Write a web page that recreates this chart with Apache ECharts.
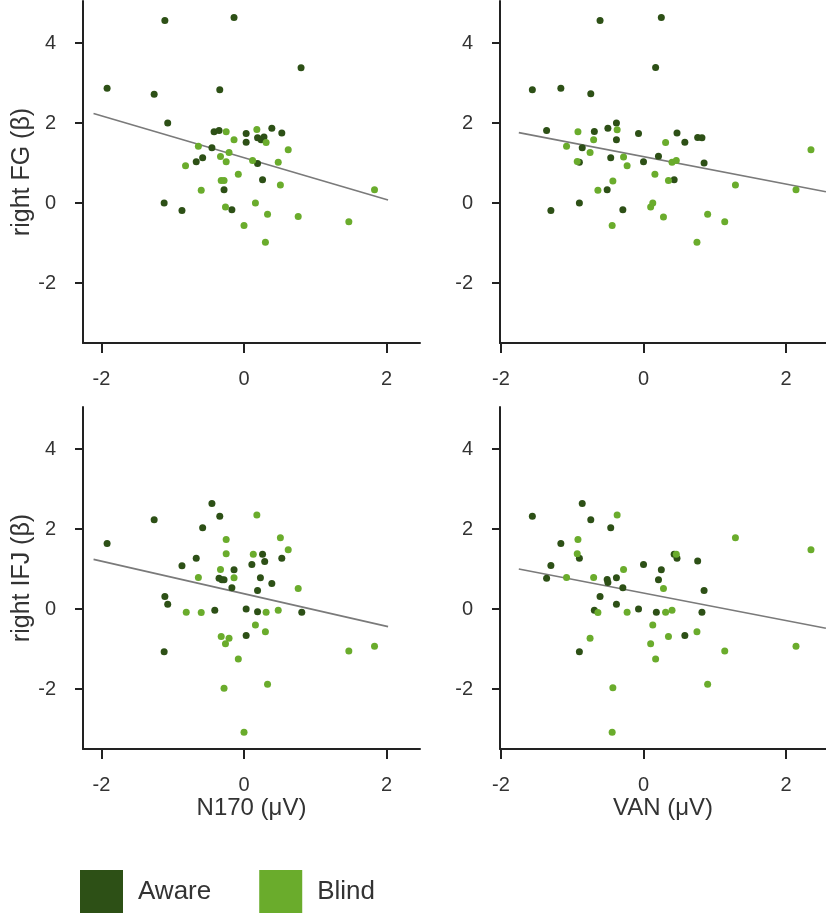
<!DOCTYPE html>
<html><head><meta charset="utf-8">
<script src="https://cdn.jsdelivr.net/npm/echarts@6/dist/echarts.min.js"></script>
<style>html,body{margin:0;padding:0;background:#fff}#c{width:826px;height:918px}</style>
</head><body><div id="c"></div>
<script>
// ---------- data ----------
const xTicks = [-2, 0, 2];
const yTicks = [-2, 0, 2, 4];
const groups = ['Aware', 'Blind'];
const xTitles = ['N170 (μV)', 'VAN (μV)'];
const yTitles = ['right FG (β)', 'right IFJ (β)'];

// right FG vs N170
const fgN170Aware = [[-1.11,4.56],[-0.14,4.64],[-1.92,2.87],[-1.26,2.72],[-0.34,2.83],[-1.07,2.0],[-0.42,1.78],[-0.35,1.81],[0.03,1.74],[0.03,1.52],[-0.45,1.38],[-0.58,1.13],[-0.67,1.03],[0.19,0.99],[-0.28,0.33],[0.80,3.38],[0.39,1.87],[0.53,1.75],[0.19,1.63],[0.24,1.58],[0.28,1.65],[0.26,0.58],[-1.12,0.0],[-0.87,-0.19],[-0.17,-0.17]];
const fgN170Blind = [[-0.25,1.78],[-0.14,1.58],[-0.64,1.42],[-0.21,1.26],[-0.33,1.16],[-0.25,1.03],[-0.82,0.93],[-0.08,0.72],[-0.32,0.56],[-0.28,0.56],[-0.6,0.32],[0.18,1.84],[0.31,1.51],[0.62,1.33],[0.12,1.06],[0.48,1.02],[0.51,0.45],[1.83,0.33],[-0.26,-0.1],[0.16,0.0],[0.33,-0.28],[0.0,-0.56],[0.76,-0.34],[1.47,-0.47],[0.30,-0.98]];
const fgN170Fit = [[-2.11,2.24],[2.02,0.075]];

// right FG vs VAN
const fgVanAware = [[-0.61,4.56],[0.17,3.39],[-1.56,2.83],[-1.16,2.87],[-0.74,2.73],[-1.36,1.81],[-0.38,2.0],[-0.69,1.79],[-0.50,1.87],[-0.38,1.58],[-0.07,1.74],[-0.86,1.38],[-0.90,1.02],[-0.46,1.13],[0.0,1.03],[0.21,1.17],[-0.51,0.33],[0.25,4.64],[0.47,1.75],[0.58,1.52],[0.76,1.64],[0.82,1.63],[0.85,1.0],[0.43,0.58],[-1.30,-0.19],[-0.90,0.0],[-0.29,-0.17]];
const fgVanBlind = [[-0.92,1.78],[-0.37,1.83],[-0.70,1.58],[-1.08,1.42],[-0.75,1.26],[-0.93,1.04],[-0.28,1.15],[-0.23,0.93],[0.16,0.72],[-0.43,0.55],[-0.64,0.32],[0.31,1.51],[0.40,1.02],[0.46,1.06],[0.35,0.56],[1.29,0.45],[2.14,0.33],[2.35,1.33],[0.10,-0.1],[0.13,0.0],[0.28,-0.35],[-0.44,-0.56],[0.90,-0.28],[1.14,-0.47],[0.75,-0.98]];
const fgVanFit = [[-1.75,1.76],[2.56,0.28]];

// right IFJ vs N170
const ifjN170Aware = [[-0.45,2.64],[-1.26,2.23],[-0.34,2.32],[-0.58,2.03],[-1.92,1.64],[-0.67,1.27],[-0.87,1.08],[-0.14,0.98],[-0.35,0.77],[-0.31,0.73],[-0.28,0.73],[-0.17,0.53],[-1.11,0.31],[0.26,1.37],[0.29,1.19],[0.11,1.11],[0.53,1.27],[0.23,0.78],[0.39,0.64],[0.19,0.46],[-1.07,0.12],[-0.41,-0.03],[0.03,0.0],[0.19,-0.07],[0.81,-0.08],[0.03,-0.66],[-1.12,-1.07]];
const ifjN170Blind = [[-0.25,1.74],[-0.25,1.38],[-0.33,0.99],[-0.64,0.79],[-0.14,0.78],[0.18,2.35],[0.51,1.78],[0.62,1.48],[0.13,1.37],[0.76,0.51],[-0.81,-0.08],[-0.60,-0.09],[0.31,-0.08],[0.48,-0.03],[0.16,-0.4],[0.30,-0.57],[-0.32,-0.69],[-0.21,-0.73],[-0.26,-0.87],[-0.08,-1.25],[1.47,-1.05],[1.83,-0.93],[-0.28,-1.98],[0.33,-1.88],[0.0,-3.08]];
const ifjN170Fit = [[-2.11,1.24],[2.02,-0.44]];

// right IFJ vs VAN
const ifjVanAware = [[-0.86,2.64],[-1.56,2.32],[-0.74,2.23],[-0.46,2.03],[-1.16,1.64],[-0.90,1.27],[-1.30,1.09],[0.0,1.11],[-1.36,0.77],[-0.51,0.74],[-0.50,0.66],[-0.38,0.78],[-0.29,0.53],[0.21,0.73],[-0.61,0.31],[0.25,0.98],[0.43,1.37],[0.47,1.27],[0.76,1.2],[0.85,0.46],[-0.69,-0.03],[-0.38,0.12],[-0.07,0.0],[0.18,-0.08],[0.82,-0.08],[0.58,-0.66],[-0.90,-1.07]];
const ifjVanBlind = [[-0.37,2.35],[-0.92,1.74],[-0.93,1.38],[-0.28,0.99],[-1.08,0.79],[-0.70,0.79],[1.29,1.78],[2.35,1.48],[0.46,1.37],[0.28,0.51],[-0.64,-0.09],[-0.23,-0.08],[0.31,-0.08],[0.40,-0.03],[0.13,-0.4],[0.75,-0.57],[-0.75,-0.73],[0.35,-0.69],[0.10,-0.87],[0.17,-1.25],[1.14,-1.05],[2.14,-0.93],[-0.43,-1.97],[0.90,-1.88],[-0.44,-3.08]];
const ifjVanFit = [[-1.75,1.0],[2.56,-0.48]];

// ---------- chart ----------
const DARK = '#2d5016', LIGHT = '#6aac2c', AXIS = '#222', TXT = '#333';
const FONT = 'Liberation Sans, Arial, sans-serif';
const panels = [
  {aware: fgN170Aware, blind: fgN170Blind, fit: fgN170Fit, col: 0, row: 0},
  {aware: fgVanAware, blind: fgVanBlind, fit: fgVanFit, col: 1, row: 0},
  {aware: ifjN170Aware, blind: ifjN170Blind, fit: ifjN170Fit, col: 0, row: 1},
  {aware: ifjVanAware, blind: ifjVanBlind, fit: ifjVanFit, col: 1, row: 1}
];
const colGeom = [{left: 83, width: 337, min: -2.258, max: 2.468}, {left: 500, width: 326, min: -2.014, max: 2.561}];
const rowGeom = [{top: 1}, {top: 407}];

const grids = [], xAxes = [], yAxes = [], series = [];
panels.forEach((p, i) => {
  const cg = colGeom[p.col], rg = rowGeom[p.row];
  grids.push({left: cg.left, top: rg.top, width: cg.width, height: 342, containLabel: false});
  xAxes.push({
    type: 'value', gridIndex: i, min: cg.min, max: cg.max,
    name: p.row === 1 ? xTitles[p.col] : '', nameLocation: 'middle', nameGap: 43,
    nameTextStyle: {fontSize: 24, color: TXT, fontFamily: FONT},
    axisLine: {show: true, onZero: false, lineStyle: {color: AXIS, width: 2}},
    axisTick: {show: true, customValues: xTicks, length: 10, lineStyle: {color: AXIS, width: 2}},
    axisLabel: {customValues: xTicks, fontSize: 20, color: TXT, fontFamily: FONT, margin: 26},
    splitLine: {show: false}
  });
  yAxes.push({
    type: 'value', gridIndex: i, min: -3.5, max: 5.05,
    name: p.col === 0 ? yTitles[p.row] : '', nameLocation: 'middle', nameGap: 48, nameRotate: 90,
    nameTextStyle: {fontSize: 25, color: TXT, fontFamily: FONT},
    axisLine: {show: true, onZero: false, lineStyle: {color: AXIS, width: 2}},
    axisTick: {show: true, customValues: yTicks, length: 8, lineStyle: {color: AXIS, width: 2}},
    axisLabel: {customValues: yTicks, fontSize: 20, color: TXT, fontFamily: FONT, margin: 27},
    splitLine: {show: false}
  });
  series.push({type: 'line', name: 'fit' + i, xAxisIndex: i, yAxisIndex: i, data: p.fit, symbol: 'none',
    lineStyle: {color: '#7a7a7a', width: 1.6}, silent: true, z: 1});
  series.push({type: 'scatter', name: groups[0], xAxisIndex: i, yAxisIndex: i, data: p.aware,
    symbolSize: 7, itemStyle: {color: DARK, opacity: 1}, z: 2});
  series.push({type: 'scatter', name: groups[1], xAxisIndex: i, yAxisIndex: i, data: p.blind,
    symbolSize: 7, itemStyle: {color: LIGHT, opacity: 1}, z: 2});
});

const chart = echarts.init(document.getElementById('c'), null, {renderer: 'canvas'});
chart.setOption({
  animation: false,
  backgroundColor: '#fff',
  grid: grids, xAxis: xAxes, yAxis: yAxes, series: series,
  legend: {
    data: groups.map((g, k) => ({name: g, icon: 'rect', itemStyle: {color: k ? LIGHT : DARK}})),
    left: 80, top: 870, padding: 0, itemWidth: 43, itemHeight: 43, itemGap: 48,
    textStyle: {fontSize: 26, color: TXT, fontFamily: FONT, padding: [0, 0, 0, 10]},
    selectedMode: false
  }
});
</script></body></html>
